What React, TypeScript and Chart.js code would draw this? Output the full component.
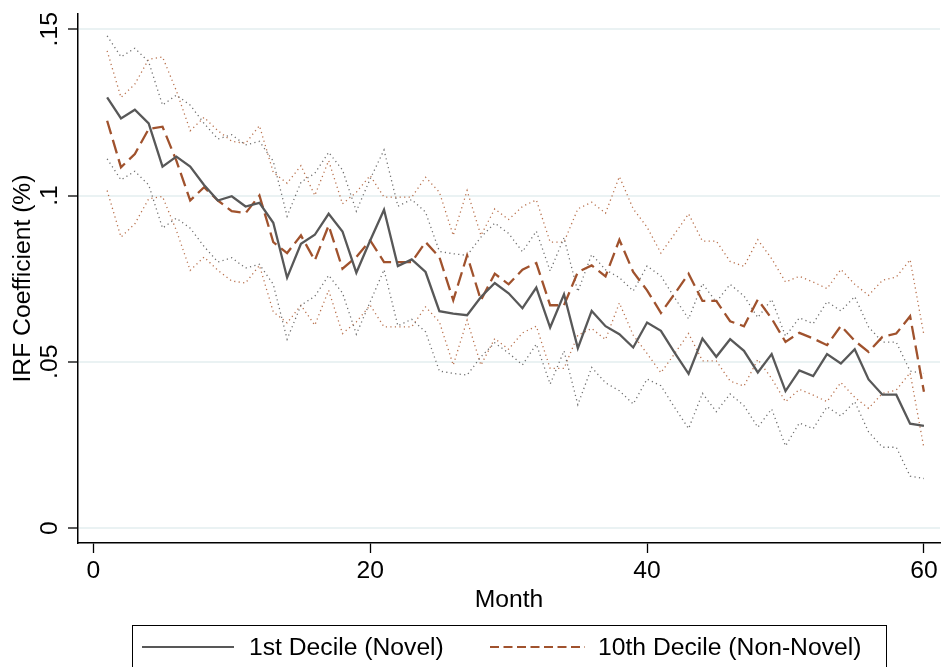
import { useEffect, useRef } from "react";
import { Chart, registerables } from "chart.js";

Chart.register(...registerables);

// Horizon in months after the shock
const months = [
  1, 2, 3, 4, 5, 6, 7, 8, 9, 10, 11, 12, 13, 14, 15, 16, 17, 18, 19, 20,
  21, 22, 23, 24, 25, 26, 27, 28, 29, 30, 31, 32, 33, 34, 35, 36, 37, 38, 39, 40,
  41, 42, 43, 44, 45, 46, 47, 48, 49, 50, 51, 52, 53, 54, 55, 56, 57, 58, 59, 60,
];

// 1st decile (novel): point estimate and confidence band
const novel = [
  0.1295, 0.1232, 0.1258, 0.1217, 0.1087, 0.1117, 0.1087, 0.1032, 0.0985, 0.0998,
  0.0967, 0.0978, 0.0918, 0.0753, 0.0855, 0.0882, 0.0945, 0.0892, 0.0768, 0.0865,
  0.0957, 0.0788, 0.0808, 0.077, 0.0652, 0.0645, 0.064, 0.0695, 0.0737, 0.0706,
  0.0661, 0.0723, 0.0603, 0.0703, 0.0541, 0.0653, 0.0607, 0.0583, 0.0543, 0.0618,
  0.0593, 0.0527, 0.0464, 0.057, 0.0515, 0.0568, 0.0533, 0.0468, 0.0523, 0.0412,
  0.0474, 0.0457, 0.0523, 0.0495, 0.0538, 0.0447, 0.0401, 0.0401, 0.0314, 0.0307,
];
const novelHi = [
  0.148, 0.1417, 0.1443, 0.1402, 0.1272, 0.1302, 0.1272, 0.1217, 0.117, 0.1183,
  0.1152, 0.1163, 0.1103, 0.0938, 0.104, 0.1067, 0.113, 0.1077, 0.0953, 0.105,
  0.1137, 0.0968, 0.0988, 0.095, 0.0832, 0.0825, 0.082, 0.0875, 0.0917, 0.0886,
  0.0831, 0.0893, 0.0773, 0.0873, 0.0711, 0.0823, 0.0777, 0.0753, 0.0713, 0.0788,
  0.0758, 0.0692, 0.0629, 0.0735, 0.068, 0.0733, 0.0698, 0.0633, 0.0688, 0.0577,
  0.0632, 0.0615, 0.0681, 0.0653, 0.0696, 0.0605, 0.0559, 0.0559, 0.0472, 0.0465,
];
const novelLo = [
  0.111, 0.1047, 0.1073, 0.1032, 0.0902, 0.0932, 0.0902, 0.0847, 0.08, 0.0813,
  0.0782, 0.0793, 0.0733, 0.0568, 0.067, 0.0697, 0.076, 0.0707, 0.0583, 0.068,
  0.0777, 0.0608, 0.0628, 0.059, 0.0472, 0.0465, 0.046, 0.0515, 0.0557, 0.0526,
  0.0491, 0.0553, 0.0433, 0.0533, 0.0371, 0.0483, 0.0437, 0.0413, 0.0373, 0.0448,
  0.0428, 0.0362, 0.0299, 0.0405, 0.035, 0.0403, 0.0368, 0.0303, 0.0358, 0.0247,
  0.0316, 0.0299, 0.0365, 0.0337, 0.038, 0.0289, 0.0243, 0.0243, 0.0156, 0.0149,
];

// 10th decile (non-novel): point estimate and confidence band
const nonNovel = [
  0.1225, 0.1085, 0.1125, 0.12, 0.1207, 0.1105, 0.0985, 0.1025, 0.0985, 0.0953,
  0.0947, 0.1, 0.086, 0.0827, 0.088, 0.0805, 0.091, 0.078, 0.0815, 0.0865,
  0.08, 0.08, 0.08, 0.086, 0.0815, 0.0685, 0.082, 0.0685, 0.0765, 0.0733,
  0.0777, 0.0797, 0.067, 0.067, 0.077, 0.079, 0.0757, 0.0867, 0.077, 0.0715,
  0.0647, 0.0705, 0.0765, 0.0683, 0.0683, 0.0622, 0.0607, 0.0687, 0.063, 0.056,
  0.0587, 0.057, 0.055, 0.0608, 0.0563, 0.053, 0.0575, 0.0585, 0.0637, 0.041,
];
const nonNovelHi = [
  0.1435, 0.1295, 0.1335, 0.141, 0.1417, 0.1315, 0.1195, 0.1235, 0.1195, 0.1163,
  0.1157, 0.121, 0.107, 0.1037, 0.109, 0.1, 0.1105, 0.0975, 0.101, 0.106,
  0.0995, 0.0995, 0.0995, 0.1055, 0.101, 0.088, 0.1015, 0.088, 0.096, 0.0928,
  0.0967, 0.0987, 0.086, 0.086, 0.096, 0.098, 0.0947, 0.1057, 0.096, 0.0905,
  0.0827, 0.0885, 0.0945, 0.0863, 0.0863, 0.0802, 0.0787, 0.0867, 0.081, 0.074,
  0.0757, 0.074, 0.072, 0.0778, 0.0733, 0.07, 0.0745, 0.0755, 0.0807, 0.058,
];
const nonNovelLo = [
  0.1015, 0.0875, 0.0915, 0.099, 0.0997, 0.0895, 0.0775, 0.0815, 0.0775, 0.0743,
  0.0737, 0.079, 0.065, 0.0617, 0.067, 0.061, 0.0715, 0.0585, 0.062, 0.067,
  0.0605, 0.0605, 0.0605, 0.0665, 0.062, 0.049, 0.0625, 0.049, 0.057, 0.0538,
  0.0587, 0.0607, 0.048, 0.048, 0.058, 0.06, 0.0567, 0.0677, 0.058, 0.0525,
  0.0467, 0.0525, 0.0585, 0.0503, 0.0503, 0.0442, 0.0427, 0.0507, 0.045, 0.038,
  0.0417, 0.04, 0.038, 0.0438, 0.0393, 0.036, 0.0405, 0.0415, 0.0467, 0.024,
];

// Axis ticks and labels
const xTicks = [0, 20, 40, 60];
const yTicks = [0, 0.05, 0.1, 0.15];
const yTickLabels = ["0", ".05", ".1", ".15"];
const xTitle = "Month";
const yTitle = "IRF Coefficient (%)";
const legendLabels = ["1st Decile (Novel)", "10th Decile (Non-Novel)"];

const GRAY = "#585858";
const SIENNA = "#a0522d";
const GRAY_DOT = "#6e6e6e";
const SIENNA_DOT = "#b8704c";
const FONT = '24.7px "Liberation Sans", Arial, Helvetica, sans-serif';
const DASH = [14, 6];
const LEGEND_DASH = [9, 4.5];
const DOT = [1.2, 3.3];

const toPoints = (vals: number[]) => months.map((m, i) => ({ x: m, y: vals[i] }));

// Draws the rotated y labels, axis titles and the boxed legend below the plot
const annotations = {
  id: "annotations",
  afterDraw(chart: any) {
    const { ctx, chartArea, scales } = chart;
    const xs = scales.x;
    const ys = scales.y;
    ctx.save();
    ctx.fillStyle = "#000";
    ctx.font = FONT;

    // y tick labels, vertical
    yTicks.forEach((v, i) => {
      ctx.save();
      ctx.translate(chartArea.left - 21, ys.getPixelForValue(v));
      ctx.rotate(-Math.PI / 2);
      ctx.textAlign = "center";
      ctx.textBaseline = "alphabetic";
      ctx.fillText(yTickLabels[i], 0, 0);
      ctx.restore();
    });

    // y title
    ctx.save();
    ctx.translate(chartArea.left - 48, (chartArea.top + chartArea.bottom) / 2);
    ctx.rotate(-Math.PI / 2);
    ctx.textAlign = "center";
    ctx.textBaseline = "alphabetic";
    ctx.fillText(yTitle, 0, 0);
    ctx.restore();

    // x tick labels and title
    ctx.textAlign = "center";
    ctx.textBaseline = "alphabetic";
    xTicks.forEach((v) => {
      ctx.fillText(String(v), xs.getPixelForValue(v), chartArea.bottom + 35);
    });
    ctx.fillText(xTitle, (chartArea.left + chartArea.right) / 2, chartArea.bottom + 64);

    // legend box
    const top = chartArea.bottom + 82;
    const rowY = top + 22;
    ctx.strokeStyle = "#000";
    ctx.lineWidth = 1;
    ctx.strokeRect(132.5, top + 0.5, 754, 80);

    ctx.lineWidth = 2.2;
    ctx.strokeStyle = GRAY;
    ctx.setLineDash([]);
    ctx.beginPath();
    ctx.moveTo(142, rowY);
    ctx.lineTo(234, rowY);
    ctx.stroke();

    ctx.strokeStyle = SIENNA;
    ctx.setLineDash(LEGEND_DASH);
    ctx.beginPath();
    ctx.moveTo(490, rowY);
    ctx.lineTo(585, rowY);
    ctx.stroke();
    ctx.setLineDash([]);

    ctx.textAlign = "left";
    ctx.fillText(legendLabels[0], 249, rowY + 8);
    ctx.fillText(legendLabels[1], 598, rowY + 8);
    ctx.restore();
  },
};

export default function App() {
  const ref = useRef<HTMLCanvasElement>(null);

  useEffect(() => {
    if (!ref.current) return;
    const chart = new Chart(ref.current, {
      type: "line",
      data: {
        datasets: [
          {
            label: legendLabels[0],
            data: toPoints(novel),
            borderColor: GRAY,
            borderWidth: 2.3,
          },
          {
            label: legendLabels[1],
            data: toPoints(nonNovel),
            borderColor: SIENNA,
            borderWidth: 2.3,
            borderDash: DASH,
          },
          { label: "novel hi", data: toPoints(novelHi), borderColor: GRAY_DOT, borderWidth: 1.3, borderDash: DOT },
          { label: "novel lo", data: toPoints(novelLo), borderColor: GRAY_DOT, borderWidth: 1.3, borderDash: DOT },
          { label: "non-novel hi", data: toPoints(nonNovelHi), borderColor: SIENNA_DOT, borderWidth: 1.3, borderDash: DOT },
          { label: "non-novel lo", data: toPoints(nonNovelLo), borderColor: SIENNA_DOT, borderWidth: 1.3, borderDash: DOT },
        ],
      },
      options: {
        responsive: false,
        devicePixelRatio: 1,
        animation: false,
        layout: { padding: { left: 0, top: 14, right: 2, bottom: 0 } },
        elements: {
          point: { radius: 0, hoverRadius: 0 },
          line: { tension: 0, fill: false, borderCapStyle: "butt" },
        },
        plugins: {
          legend: { display: false },
          tooltip: { enabled: false },
        },
        scales: {
          x: {
            type: "linear",
            min: -1.105,
            max: 61.16,
            afterBuildTicks: (scale: any) => {
              scale.ticks = xTicks.map((v) => ({ value: v }));
            },
            afterFit: (scale: any) => {
              scale.height = 124;
            },
            ticks: { display: false },
            grid: {
              display: true,
              drawOnChartArea: false,
              drawTicks: true,
              tickLength: 10,
              tickColor: "#000",
              tickWidth: 1.3,
            },
            border: { display: true, color: "#000", width: 1.5 },
          },
          y: {
            type: "linear",
            min: -0.0045,
            max: 0.1546,
            afterBuildTicks: (scale: any) => {
              scale.ticks = yTicks.map((v) => ({ value: v }));
            },
            afterFit: (scale: any) => {
              scale.width = 78;
            },
            ticks: { display: false },
            grid: {
              display: true,
              drawOnChartArea: true,
              drawTicks: true,
              color: "#eaf2f3",
              lineWidth: 2,
              tickLength: 10,
              tickColor: "#000",
              tickWidth: 1.3,
            },
            border: { display: true, color: "#000", width: 1.5 },
          },
        },
      },
      plugins: [annotations],
    });
    return () => chart.destroy();
  }, []);

  return (
    <div style={{ position: "absolute", left: 0, top: 0, width: 942, height: 667, background: "#fff" }}>
      <canvas ref={ref} width={942} height={667} style={{ display: "block", width: 942, height: 667 }} />
    </div>
  );
}
